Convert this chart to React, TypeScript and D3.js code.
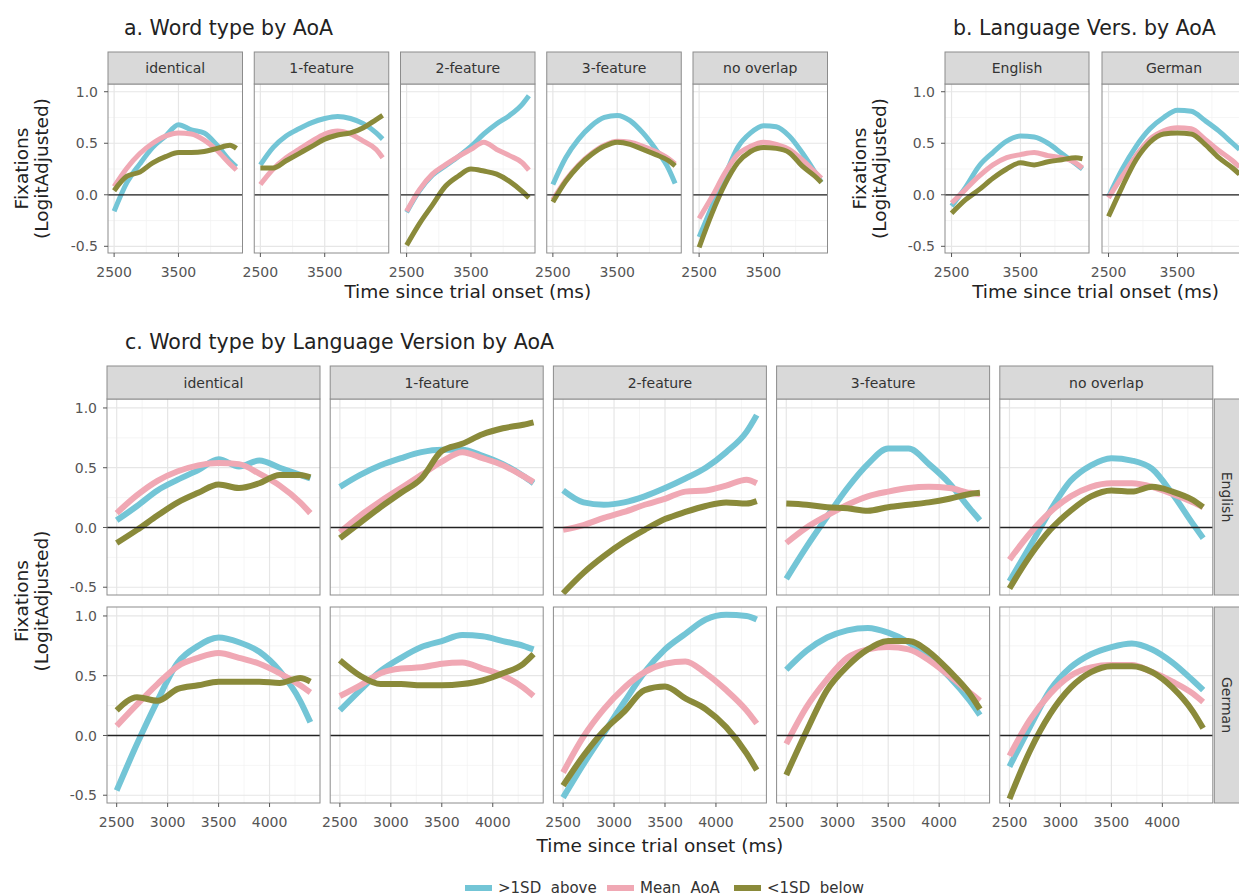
import * as d3 from "d3";

// time grid shared by every series (ms)
const TIME = [2500, 2700, 2900, 3100, 3300, 3500, 3700, 3900, 4100, 4300, 4400];
const WORD_TYPES = ["identical", "1-feature", "2-feature", "3-feature", "no overlap"];
const LANGUAGES = ["English", "German"];
const AOA_GROUPS = [">1SD\u00a0\u00a0above", "Mean\u00a0\u00a0AoA", "<1SD\u00a0\u00a0below"];
const AOA_COLORS = ["#73C5D6", "#F0A8B4", "#8A8A3A"];

const X_DOMAIN: [number, number] = [2405, 4495];
const Y_DOMAIN: [number, number] = [-0.565, 1.075];
const Y_MAJOR = [-0.5, 0, 0.5, 1.0];
const Y_MINOR = [-0.25, 0.25, 0.75];
const X_MAJOR_WIDE = [2500, 3000, 3500, 4000];
const X_MINOR_WIDE = [2750, 3250, 3750, 4250];
const X_MAJOR_NARROW = [2500, 3500];
const X_MINOR_NARROW = [3000, 4000];

// a. word type by AoA  (rows: >1SD above, mean, <1SD below)
const A_IDENTICAL = [
  [-0.16, 0.12, 0.30, 0.46, 0.57, 0.68, 0.63, 0.60, 0.48, 0.33, 0.27],
  [0.08, 0.26, 0.40, 0.50, 0.57, 0.60, 0.59, 0.53, 0.43, 0.30, 0.24],
  [0.04, 0.18, 0.22, 0.31, 0.37, 0.41, 0.41, 0.42, 0.45, 0.48, 0.45],
];
const A_1FEATURE = [
  [0.29, 0.46, 0.57, 0.64, 0.70, 0.74, 0.76, 0.74, 0.69, 0.60, 0.54],
  [0.10, 0.25, 0.36, 0.44, 0.52, 0.59, 0.62, 0.59, 0.52, 0.44, 0.36],
  [0.26, 0.26, 0.33, 0.40, 0.47, 0.54, 0.58, 0.60, 0.65, 0.73, 0.77],
];
const A_2FEATURE = [
  [-0.17, 0.04, 0.19, 0.28, 0.37, 0.47, 0.59, 0.69, 0.77, 0.88, 0.96],
  [-0.16, 0.05, 0.20, 0.29, 0.37, 0.44, 0.51, 0.44, 0.38, 0.31, 0.24],
  [-0.49, -0.28, -0.10, 0.08, 0.18, 0.25, 0.23, 0.20, 0.13, 0.03, -0.03],
];
const A_3FEATURE = [
  [0.10, 0.36, 0.54, 0.67, 0.75, 0.77, 0.72, 0.60, 0.44, 0.25, 0.11],
  [-0.05, 0.14, 0.29, 0.40, 0.48, 0.52, 0.51, 0.47, 0.42, 0.35, 0.30],
  [-0.07, 0.13, 0.28, 0.39, 0.47, 0.51, 0.49, 0.44, 0.39, 0.33, 0.28],
];
const A_NOOVERLAP = [
  [-0.41, -0.11, 0.18, 0.46, 0.60, 0.67, 0.66, 0.57, 0.41, 0.22, 0.12],
  [-0.23, -0.02, 0.21, 0.39, 0.47, 0.51, 0.49, 0.44, 0.34, 0.22, 0.16],
  [-0.51, -0.18, 0.10, 0.31, 0.42, 0.46, 0.45, 0.41, 0.28, 0.18, 0.12],
];

// b. language version by AoA
const B_ENGLISH = [
  [-0.11, 0.07, 0.28, 0.41, 0.52, 0.57, 0.56, 0.50, 0.40, 0.30, 0.25],
  [-0.08, 0.05, 0.18, 0.29, 0.36, 0.39, 0.41, 0.38, 0.36, 0.31, 0.26],
  [-0.18, -0.05, 0.05, 0.16, 0.25, 0.31, 0.29, 0.32, 0.34, 0.36, 0.35],
];
const B_GERMAN = [
  [-0.02, 0.25, 0.47, 0.64, 0.75, 0.82, 0.81, 0.72, 0.62, 0.50, 0.44],
  [-0.03, 0.18, 0.38, 0.54, 0.62, 0.65, 0.64, 0.54, 0.43, 0.33, 0.27],
  [-0.21, 0.08, 0.34, 0.51, 0.59, 0.60, 0.59, 0.49, 0.36, 0.26, 0.20],
];

// c. word type by language version by AoA — English row
const C_EN_IDENTICAL = [
  [0.06, 0.18, 0.31, 0.40, 0.48, 0.57, 0.51, 0.56, 0.50, 0.44, 0.41],
  [0.12, 0.27, 0.39, 0.47, 0.52, 0.54, 0.53, 0.45, 0.35, 0.21, 0.12],
  [-0.13, -0.02, 0.10, 0.21, 0.29, 0.36, 0.33, 0.37, 0.44, 0.44, 0.42],
];
const C_EN_1FEATURE = [
  [0.34, 0.44, 0.52, 0.58, 0.63, 0.65, 0.65, 0.60, 0.53, 0.43, 0.37],
  [-0.04, 0.10, 0.22, 0.33, 0.44, 0.55, 0.63, 0.58, 0.52, 0.43, 0.38],
  [-0.09, 0.04, 0.17, 0.29, 0.41, 0.64, 0.70, 0.78, 0.83, 0.86, 0.88],
];
const C_EN_2FEATURE = [
  [0.31, 0.21, 0.19, 0.21, 0.26, 0.33, 0.41, 0.50, 0.63, 0.80, 0.94],
  [-0.02, 0.02, 0.08, 0.13, 0.19, 0.24, 0.30, 0.31, 0.35, 0.40, 0.37],
  [-0.55, -0.38, -0.24, -0.12, -0.02, 0.07, 0.13, 0.18, 0.21, 0.20, 0.22],
];
const C_EN_3FEATURE = [
  [-0.43, -0.16, 0.09, 0.33, 0.53, 0.66, 0.66, 0.53, 0.37, 0.16, 0.06],
  [-0.13, 0.0, 0.10, 0.19, 0.26, 0.30, 0.33, 0.34, 0.33, 0.29, 0.28],
  [0.20, 0.19, 0.17, 0.16, 0.14, 0.17, 0.19, 0.21, 0.24, 0.28, 0.29],
];
const C_EN_NOOVERLAP = [
  [-0.45, -0.16, 0.14, 0.39, 0.52, 0.58, 0.56, 0.49, 0.28, 0.03, -0.09],
  [-0.27, -0.05, 0.13, 0.26, 0.34, 0.37, 0.37, 0.34, 0.28, 0.21, 0.17],
  [-0.51, -0.24, -0.02, 0.14, 0.26, 0.31, 0.30, 0.34, 0.30, 0.23, 0.17],
];
// German row
const C_DE_IDENTICAL = [
  [-0.46, -0.07, 0.29, 0.61, 0.75, 0.82, 0.78, 0.70, 0.54, 0.29, 0.11],
  [0.08, 0.26, 0.43, 0.58, 0.65, 0.69, 0.65, 0.60, 0.52, 0.42, 0.36],
  [0.21, 0.32, 0.29, 0.39, 0.42, 0.45, 0.45, 0.45, 0.44, 0.48, 0.45],
];
const C_DE_1FEATURE = [
  [0.21, 0.38, 0.54, 0.65, 0.74, 0.79, 0.84, 0.83, 0.79, 0.75, 0.72],
  [0.33, 0.42, 0.52, 0.56, 0.57, 0.60, 0.61, 0.56, 0.50, 0.40, 0.33],
  [0.63, 0.50, 0.43, 0.43, 0.42, 0.42, 0.43, 0.46, 0.52, 0.60, 0.68],
];
const C_DE_2FEATURE = [
  [-0.52, -0.24, 0.02, 0.28, 0.53, 0.72, 0.85, 0.97, 1.01, 1.0, 0.97],
  [-0.31, -0.01, 0.22, 0.40, 0.53, 0.60, 0.62, 0.52, 0.38, 0.21, 0.10],
  [-0.42, -0.17, 0.04, 0.20, 0.38, 0.41, 0.31, 0.22, 0.07, -0.15, -0.29],
];
const C_DE_3FEATURE = [
  [0.55, 0.71, 0.82, 0.88, 0.90, 0.86, 0.78, 0.65, 0.49, 0.29, 0.17],
  [-0.07, 0.24, 0.47, 0.65, 0.72, 0.74, 0.72, 0.63, 0.50, 0.36, 0.29],
  [-0.33, 0.04, 0.38, 0.58, 0.72, 0.79, 0.79, 0.70, 0.54, 0.35, 0.22],
];
const C_DE_NOOVERLAP = [
  [-0.26, 0.07, 0.38, 0.57, 0.68, 0.74, 0.77, 0.72, 0.61, 0.46, 0.38],
  [-0.17, 0.13, 0.35, 0.50, 0.57, 0.59, 0.59, 0.53, 0.45, 0.35, 0.28],
  [-0.53, -0.13, 0.18, 0.40, 0.53, 0.58, 0.58, 0.53, 0.40, 0.20, 0.06],
];

const A_DATA = [A_IDENTICAL, A_1FEATURE, A_2FEATURE, A_3FEATURE, A_NOOVERLAP];
const B_DATA = [B_ENGLISH, B_GERMAN];
const C_DATA = [
  [C_EN_IDENTICAL, C_EN_1FEATURE, C_EN_2FEATURE, C_EN_3FEATURE, C_EN_NOOVERLAP],
  [C_DE_IDENTICAL, C_DE_1FEATURE, C_DE_2FEATURE, C_DE_3FEATURE, C_DE_NOOVERLAP],
];

const FONT = "DejaVu Sans, sans-serif";
const BORDER = "#8C8C8C";
const TICK_COL = "#555";

interface FacetProps {
  left: number; top: number; w: number; h: number;
  series: number[][];
  xMajor: number[]; xMinor: number[];
  lw: number;
  strip?: string; stripH?: number;
  rightStrip?: string;
  yAxis?: boolean; xAxis?: boolean;
}

function Facet({ left, top, w, h, series, xMajor, xMinor, lw, strip, stripH = 32, rightStrip, yAxis, xAxis }: FacetProps) {
  const x = d3.scaleLinear().domain(X_DOMAIN).range([left, left + w]);
  const y = d3.scaleLinear().domain(Y_DOMAIN).range([top + h, top]);
  const line = d3.line<number>().x((_, i) => x(TIME[i])).y(d => y(d)).curve(d3.curveMonotoneX);
  return (
    <g>
      <rect x={left} y={top} width={w} height={h} fill="#fff" />
      {xMinor.map(t => <line key={"xm" + t} x1={x(t)} x2={x(t)} y1={top} y2={top + h} stroke="#F1F1F1" strokeWidth={0.7} />)}
      {Y_MINOR.map(v => <line key={"ym" + v} x1={left} x2={left + w} y1={y(v)} y2={y(v)} stroke="#F1F1F1" strokeWidth={0.7} />)}
      {xMajor.map(t => <line key={"xM" + t} x1={x(t)} x2={x(t)} y1={top} y2={top + h} stroke="#E6E6E6" strokeWidth={1.2} />)}
      {Y_MAJOR.map(v => <line key={"yM" + v} x1={left} x2={left + w} y1={y(v)} y2={y(v)} stroke="#E6E6E6" strokeWidth={1.2} />)}
      {series.map((s, k) => (
        <path key={k} d={line(s) ?? ""} fill="none" stroke={AOA_COLORS[k]} strokeWidth={lw} strokeLinejoin="round" />
      ))}
      <line x1={left} x2={left + w} y1={y(0)} y2={y(0)} stroke="#222" strokeWidth={1.3} />
      <rect x={left} y={top} width={w} height={h} fill="none" stroke={BORDER} strokeWidth={1} />
      {strip && (
        <g>
          <rect x={left} y={top - stripH} width={w} height={stripH} fill="#D9D9D9" stroke={BORDER} strokeWidth={1} />
          <text x={left + w / 2} y={top - stripH / 2} dy="0.36em" textAnchor="middle" fontSize={14} fill="#333">{strip}</text>
        </g>
      )}
      {rightStrip && (
        <g>
          <rect x={left + w + 1.5} y={top} width={27} height={h} fill="#D9D9D9" stroke={BORDER} strokeWidth={1} />
          <text transform={`translate(${left + w + 14},${top + h / 2}) rotate(90)`} dy="0.36em" textAnchor="middle" fontSize={14} fill="#333">{rightStrip}</text>
        </g>
      )}
      {yAxis && Y_MAJOR.map(v => (
        <g key={"yt" + v}>
          <line x1={left - 4} x2={left} y1={y(v)} y2={y(v)} stroke={TICK_COL} />
          <text x={left - 10} y={y(v)} dy="0.36em" textAnchor="end" fontSize={14} fill={TICK_COL}>{v.toFixed(1)}</text>
        </g>
      ))}
      {xAxis && xMajor.map(t => (
        <g key={"xt" + t}>
          <line x1={x(t)} x2={x(t)} y1={top + h} y2={top + h + 4} stroke={TICK_COL} />
          <text x={x(t)} y={top + h + 24} textAnchor="middle" fontSize={14} fill={TICK_COL}>{t}</text>
        </g>
      ))}
    </g>
  );
}

function YTitle({ x, cy }: { x: number; cy: number }) {
  return (
    <g fontSize={18.5} fill="#222">
      <text transform={`translate(${x},${cy}) rotate(-90)`} textAnchor="middle">Fixations</text>
      <text transform={`translate(${x + 20},${cy}) rotate(-90)`} textAnchor="middle">(LogitAdjusted)</text>
    </g>
  );
}

export default function App() {
  // panel a geometry
  const aLeft = 108, aW = 134.5, aStep = 146.25, aTop = 84, aH = 169;
  const bLeft = 945, bW = 144, bStep = 157;
  const cLeft = 107, cW = 213, cStep = 223.2, cTops = [399, 607], cH = 196;

  return (
    <svg width={1239} height={896} style={{ position: "absolute", left: 0, top: 0, background: "#fff" }} fontFamily={FONT}>
      <rect width={1239} height={896} fill="#fff" />

      {/* a */}
      <text x={124} y={35} fontSize={20.5} fill="#222">a. Word type by AoA</text>
      {WORD_TYPES.map((wt, i) => (
        <Facet key={"a" + i} left={aLeft + i * aStep} top={aTop} w={aW} h={aH} series={A_DATA[i]}
          xMajor={X_MAJOR_NARROW} xMinor={X_MINOR_NARROW} lw={5} strip={wt} yAxis={i === 0} xAxis />
      ))}
      <YTitle x={28} cy={aTop + aH / 2} />
      <text x={(aLeft + aLeft + 4 * aStep + aW) / 2} y={298} textAnchor="middle" fontSize={18.5} fill="#222">Time since trial onset (ms)</text>

      {/* b */}
      <text x={953} y={35} fontSize={20.5} fill="#222">b. Language Vers. by AoA</text>
      {LANGUAGES.map((lg, i) => (
        <Facet key={"b" + i} left={bLeft + i * bStep} top={aTop} w={bW} h={aH} series={B_DATA[i]}
          xMajor={X_MAJOR_NARROW} xMinor={X_MINOR_NARROW} lw={5} strip={lg} yAxis={i === 0} xAxis />
      ))}
      <YTitle x={866} cy={aTop + aH / 2} />
      <text x={(bLeft + bLeft + bStep + bW) / 2} y={298} textAnchor="middle" fontSize={18.5} fill="#222">Time since trial onset (ms)</text>

      {/* c */}
      <text x={125} y={349} fontSize={20.5} fill="#222">c. Word type by Language Version by AoA</text>
      {LANGUAGES.map((lg, r) =>
        WORD_TYPES.map((wt, i) => (
          <Facet key={"c" + r + i} left={cLeft + i * cStep} top={cTops[r]} w={cW} h={cH} series={C_DATA[r][i]}
            xMajor={X_MAJOR_WIDE} xMinor={X_MINOR_WIDE} lw={6}
            strip={r === 0 ? wt : undefined} stripH={33}
            rightStrip={i === WORD_TYPES.length - 1 ? lg : undefined}
            yAxis={i === 0} xAxis={r === LANGUAGES.length - 1} />
        ))
      )}
      <YTitle x={28} cy={(cTops[0] + cTops[1] + cH) / 2} />
      <text x={(cLeft + cLeft + 4 * cStep + cW) / 2} y={852} textAnchor="middle" fontSize={18.5} fill="#222">Time since trial onset (ms)</text>

      {/* legend */}
      {AOA_GROUPS.map((g, k) => {
        const keyX = [465, 607, 734][k];
        return (
          <g key={"lg" + k}>
            <line x1={keyX} x2={keyX + 27} y1={888} y2={888} stroke={AOA_COLORS[k]} strokeWidth={6} />
            <text x={keyX + 33} y={893} fontSize={15} fill="#333">{g}</text>
          </g>
        );
      })}
    </svg>
  );
}
